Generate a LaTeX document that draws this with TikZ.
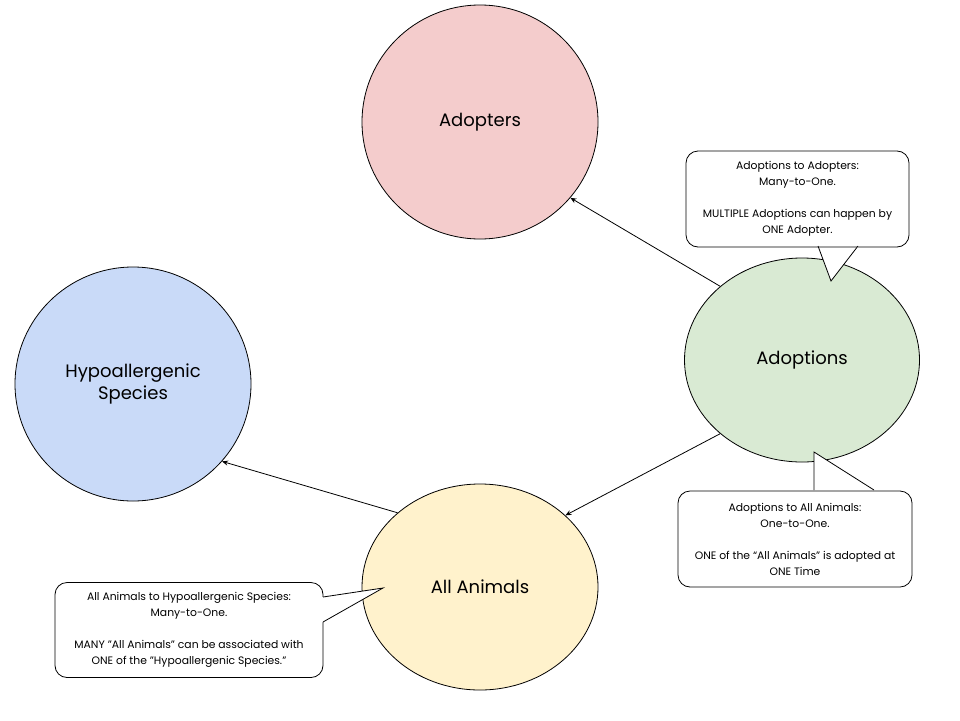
\documentclass[tikz,border=0pt]{standalone}
\usepackage{fontspec}
\setmainfont{Poppins}
\usetikzlibrary{shapes.geometric,arrows.meta}
\definecolor{cpink}{HTML}{F4CCCC}
\definecolor{cblue}{HTML}{C9DAF8}
\definecolor{cgreen}{HTML}{D9EAD3}
\definecolor{cyellow}{HTML}{FFF2CC}
\tikzset{
  entity/.style={ellipse, draw=black, line width=0.8pt, inner sep=0pt, align=center,
    font=\fontsize{18}{22}\selectfont},
  callbox/.style={draw=black, line width=0.8pt, fill=white, rounded corners=12pt, align=center,
    inner sep=0pt, font=\fontsize{10.8}{16}\selectfont},
  link/.style={draw=black, line width=0.8pt, -{Stealth[length=6pt,width=5pt]}},
  pointer/.style={draw=black, line width=0.8pt, line join=miter},
}
\begin{document}
\begin{tikzpicture}[x=1pt,y=-1pt]
\useasboundingbox (0,0) rectangle (960,720);
\fill[white] (0,0) rectangle (960,720);

\node[entity, fill=cpink, minimum width=236pt, minimum height=234pt] (adopters) at (480,122) {\raisebox{-1.5pt}{Adopters}};
\node[entity, fill=cblue, minimum width=236pt, minimum height=234pt] (hypo) at (133,384) {Hypoallergenic\\Species};
\node[entity, fill=cgreen, minimum width=235pt, minimum height=204pt] (adoptions) at (802,360) {\raisebox{-1.5pt}{Adoptions}};
\node[entity, fill=cyellow, minimum width=236pt, minimum height=206pt] (animals) at (480,587) {All Animals};

\draw[link] (adoptions.138.8) -- (adopters.320);
\draw[link] (adoptions.222) -- (animals.40.5);
\draw[link] (animals.138) -- (hypo.319);

% callout 1
\node[callbox, minimum width=223pt, minimum height=96pt] (c1) at (797.5,199)
  {Adoptions to Adopters:\\Many-to-One.\\[16pt]MULTIPLE Adoptions can happen by\\ONE Adopter.};
\coordinate (c1a) at (818,246);
\coordinate (c1t) at (831,281);
\coordinate (c1b) at (858,246);
\fill[white] ([yshift=-2pt]c1a) -- (c1a) -- (c1t) -- (c1b) -- ([yshift=-2pt]c1b) -- cycle;
\draw[pointer] (c1a) -- (c1t) -- (c1b);

% callout 2
\node[callbox, minimum width=234pt, minimum height=96pt] (c2) at (795,539)
  {Adoptions to All Animals:\\One-to-One.\\[16pt]ONE of the “All Animals” is adopted at\\ONE Time};
\coordinate (c2a) at (814,490);
\coordinate (c2t) at (814,452);
\coordinate (c2b) at (874,490);
\fill[white] ([yshift=2pt]c2a) -- (c2a) -- (c2t) -- (c2b) -- ([yshift=2pt]c2b) -- cycle;
\draw[pointer] (c2a) -- (c2t) -- (c2b);

% callout 3
\node[callbox, minimum width=268pt, minimum height=95pt] (c3) at (189,630)
  {All Animals to Hypoallergenic Species:\\Many-to-One.\\[16pt]MANY "All Animals" can be associated with\\ONE of the "Hypoallergenic Species."};
\coordinate (c3a) at (323,597);
\coordinate (c3t) at (383,588);
\coordinate (c3b) at (323,622);
\fill[white] ([xshift=-2pt]c3a) -- (c3a) -- (c3t) -- (c3b) -- ([xshift=-2pt]c3b) -- cycle;
\draw[pointer] (c3a) -- (c3t) -- (c3b);
\end{tikzpicture}
\end{document}
